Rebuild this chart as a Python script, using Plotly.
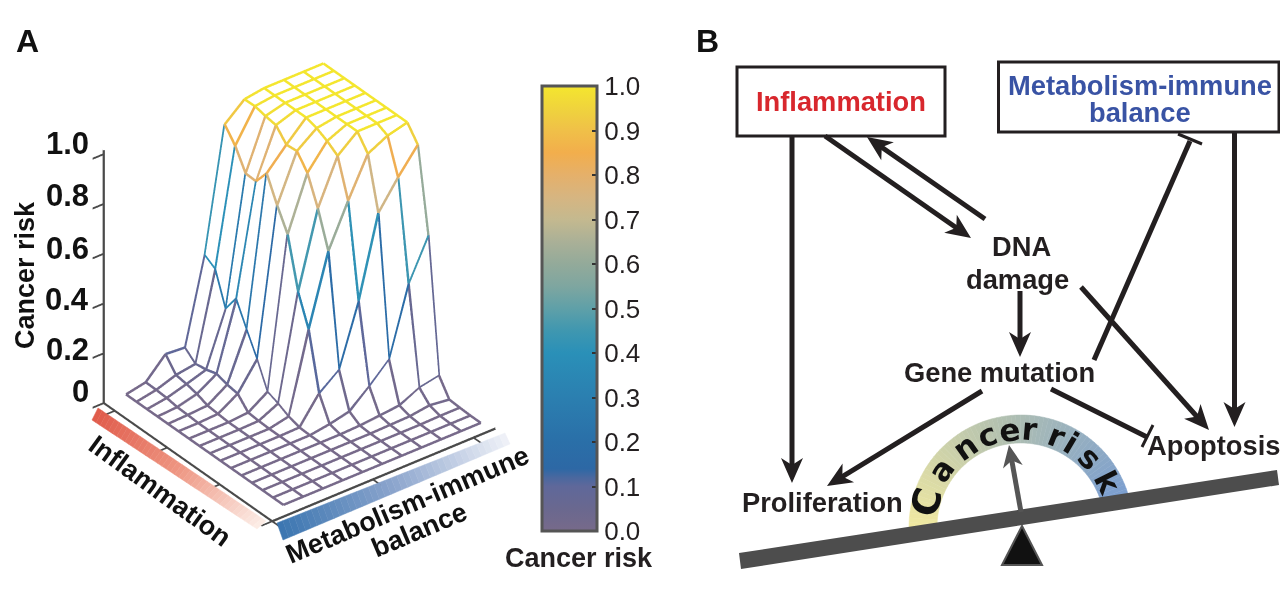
import math
import numpy as np
import plotly.graph_objects as go

W, H = 1280, 593

# ---------- Panel A data ----------
balance_levels = list(range(11))          # metabolism-immune balance grid
inflammation_levels = list(range(15, -1, -1))  # inflammation grid, from the far edge forward
cancer_risk = [
    [0, .016, .096, .09, .43, .92, .988, 1, 1, 1, 1],
    [0, .015, .042, .054, .403, .864, .99, 1, 1, 1, 1],
    [0, .012, .035, .06, .272, .782, .98, 1, 1, 1, 1],
    [0, .005, .025, .073, .342, .78, .973, 1, 1, 1, 1],
    [0, .003, .008, .059, .25, .842, .924, 1, 1, 1, 1],
    [0, 0, .004, .052, .16, .743, .928, .987, 1, 1, 1],
    [0, 0, 0, .006, .058, .656, .87, .965, 1, 1, 1],
    [0, 0, 0, .002, .04, .456, .757, .935, 1, 1, 1],
    [0, 0, 0, 0, .017, .334, .615, .784, .94, .98, 1],
    [0, 0, 0, 0, .002, .107, .17, .412, .732, .842, .94],
    [0, 0, 0, 0, 0, .012, .03, .1, .176, .446, .606],
    [0, 0, 0, 0, 0, 0, .003, .01, .018, .058, .074],
    [0, 0, 0, 0, 0, 0, 0, .002, .004, .015, .005],
    [0, 0, 0, 0, 0, 0, 0, 0, 0, .002, .002],
    [0, 0, 0, 0, 0, 0, 0, 0, 0, 0, 0],
    [0, 0, 0, 0, 0, 0, 0, 0, 0, 0, 0],
]
risk_ticks = [0, .2, .4, .6, .8, 1.0]
risk_labels = ["0", "0.2", "0.4", "0.6", "0.8", "1.0"]
bar_ticks = [round(k * .1, 1) for k in range(11)]
bar_labels = [f"{v:.1f}" for v in bar_ticks]
risk_colors = [
    [0, "#776a8a"], [.05, "#6a688f"], [.1, "#5f689a"], [.12, "#4a689f"], [.14, "#2d68a5"],
    [.2, "#2a6fa8"], [.3, "#2b7fb0"], [.4, "#2a90b8"], [.45, "#3f97b0"], [.5, "#5fa0a8"],
    [.55, "#7ea6a0"], [.6, "#93aa9a"], [.65, "#aab097"], [.7, "#c4b98f"], [.75, "#d6b581"],
    [.8, "#e5b06a"], [.85, "#f2ae4c"], [.9, "#f0c048"], [.94, "#efd03f"], [1, "#f4e62e"],
]

Z = np.array(cancer_risk)
lx, ly, lz, lc = [], [], [], []
for i, a in enumerate(inflammation_levels):
    for j, b in enumerate(balance_levels):
        if j + 1 < len(balance_levels):
            lx += [b, balance_levels[j + 1], None]
            ly += [a, a, None]
            lz += [Z[i, j], Z[i, j + 1], None]
            lc += [Z[i, j], Z[i, j], Z[i, j]]
        if i + 1 < len(inflammation_levels):
            lx += [b, b, None]
            ly += [a, inflammation_levels[i + 1], None]
            lz += [Z[i, j], Z[i + 1, j], None]
            lc += [Z[i + 1, j], Z[i + 1, j], Z[i + 1, j]]

fig = go.Figure()
fig.add_trace(go.Surface(
    x=balance_levels, y=inflammation_levels, z=Z - 0.007,
    colorscale=[[0, "white"], [1, "white"]], showscale=False, hoverinfo="skip",
    lighting=dict(ambient=1, diffuse=0, specular=0, roughness=1, fresnel=0),
    contours=dict(x=dict(highlight=False), y=dict(highlight=False), z=dict(highlight=False)),
))
fig.add_trace(go.Scatter3d(
    x=lx, y=ly, z=lz, mode="lines", hoverinfo="skip",
    line=dict(color=lc, colorscale=risk_colors, cmin=0, cmax=1, width=5, showscale=True,
              colorbar=dict(
                  thicknessmode="pixels", thickness=55, lenmode="pixels", len=445,
                  x=541.5 / W, xanchor="left", y=1 - 86 / H, yanchor="top", xpad=0, ypad=0,
                  outlinecolor="#555555", outlinewidth=3, borderwidth=0,
                  tickmode="array", tickvals=bar_ticks, ticktext=bar_labels,
                  ticks="inside", ticklen=6, tickwidth=2, tickcolor="#333333",
                  tickfont=dict(family="Liberation Sans", size=26, color="#231f20"),
              )),
))

axis_common = dict(showbackground=False, showgrid=False, zeroline=False, showspikes=False,
                   showline=True, linecolor="#4a4a4a", linewidth=5, title=dict(text=""),
                   ticks="outside", ticklen=14, tickwidth=4, tickcolor="#4a4a4a", showticklabels=False)
cam_dir = np.array([-.5133, -.6672, .5401])
fig.update_layout(
    width=W, height=H, margin=dict(l=0, r=0, t=0, b=0), paper_bgcolor="white",
    showlegend=False,
    scene=dict(
        domain=dict(x=[0, 599 / W], y=[1 - 579 / H, 1]),
        bgcolor="rgba(0,0,0,0)",
        aspectmode="manual", aspectratio=dict(x=.972, y=.954, z=1.037),
        camera=dict(eye=dict(zip("xyz", (cam_dir * 1.918).tolist())),
                    up=dict(x=0, y=0, z=1), center=dict(x=0, y=0, z=0),
                    projection=dict(type="orthographic")),
        xaxis=dict(axis_common, range=[-1.1, 10.2], tickvals=[-1.1, 4.0, 9.1]),
        yaxis=dict(axis_common, range=[-1.0, 15.05], tickvals=[-1.0, 4.0, 9.0, 14.0]),
        zaxis=dict(axis_common, range=[0, 1.015], tickvals=risk_ticks),
    ),
)

# ---------- page-pixel helpers ----------
shapes, notes = [], []
def poly(pts, fill, lw=0, lc_=None, layer="above"):
    d = "M" + " L".join(f"{x / W:.5f},{1 - y / H:.5f}" for x, y in pts) + " Z"
    shapes.append(dict(type="path", path=d, xref="paper", yref="paper", fillcolor=fill, layer=layer,
                       line=dict(width=lw, color=lc_ or fill)))
def seg(x0, y0, x1, y1, color="#231f20", lw=5):
    shapes.append(dict(type="line", xref="paper", yref="paper", x0=x0 / W, y0=1 - y0 / H, x1=x1 / W, y1=1 - y1 / H,
                       line=dict(color=color, width=lw)))
def rect(x0, y0, x1, y1):
    shapes.append(dict(type="rect", xref="paper", yref="paper", x0=x0 / W, y0=1 - y0 / H, x1=x1 / W, y1=1 - y1 / H,
                       line=dict(color="#231f20", width=3), fillcolor="rgba(0,0,0,0)"))
def label(text, x, y, size=27, color="#231f20", bold=True, angle=0, family="Liberation Sans", anchor="center"):
    t = f"<b>{text}</b>" if bold else text
    notes.append(dict(text=t, x=x / W, y=1 - y / H, xref="paper", yref="paper", showarrow=False,
                      textangle=angle, font=dict(family=family, size=size, color=color),
                      xanchor=anchor, yanchor="middle"))
def arrow(x0, y0, x1, y1, color="#231f20", lw=5, hl=25, hw=11):
    L = math.hypot(x1 - x0, y1 - y0); ux, uy = (x1 - x0) / L, (y1 - y0) / L; nx, ny = -uy, ux
    seg(x0, y0, x1 - ux * hl * .7, y1 - uy * hl * .7, color, lw)
    poly([(x1, y1), (x1 - ux * hl + nx * hw, y1 - uy * hl + ny * hw),
          (x1 - ux * hl * .72, y1 - uy * hl * .72),
          (x1 - ux * hl - nx * hw, y1 - uy * hl - ny * hw)], color)
def mix(c0, c1, t):
    return "#" + "".join(f"{round(a + (b - a) * t):02x}" for a, b in zip(c0, c1))
def ramp(stops, t):
    n = len(stops) - 1
    k = min(int(t * n), n - 1)
    return mix(stops[k], stops[k + 1], t * n - k)
def strip(p00, p01, p10, p11, stops, n=40):
    for k in range(n):
        t0, t1 = k / n, (k + 1) / n
        A = [(p00[m] + (p10[m] - p00[m]) * t0, p01[m] + (p11[m] - p01[m]) * t0) for m in (0, 1)]
        B = [(p00[m] + (p10[m] - p00[m]) * t1, p01[m] + (p11[m] - p01[m]) * t1) for m in (0, 1)]
        poly([(A[0][0], A[1][0]), (B[0][0], B[1][0]), (B[0][1], B[1][1]), (A[0][1], A[1][1])],
             ramp(stops, (t0 + t1) / 2), lw=.5)

# Panel A gradient bars and labels
RED = [(224, 90, 74), (238, 150, 130), (252, 238, 232)]
BLUE = [(58, 117, 176), (140, 165, 205), (240, 242, 248)]
strip((98, 408), (92, 420), (266, 521), (257, 529), RED)
strip((277, 523), (283, 540), (505, 433), (510, 444), BLUE)
label("A", 27, 41, 32, "#111111")
label("B", 707, 41, 32, "#111111")
label("Cancer risk", 25, 275, 27, "#111111", angle=-90)
label("Cancer risk", 579, 558, 27, "#231f20")
label("Inflammation", 160, 491, 27, "#111111", angle=36)
label("Metabolism-immune", 407, 505, 27, "#111111", angle=-23)
label("balance", 419, 530, 27, "#111111", angle=-23)
for t, s, lift in zip(risk_ticks, risk_labels, [8, 1, 1, 2, 4, 7]):
    label(s, 91, 400 - 250 * t - lift, 31, "#111111", anchor="right")

# Panel B boxes and labels
rect(737, 67, 945, 136)
rect(998.5, 62, 1279, 132)
label("Inflammation", 841, 102, 27.3, "#d8272d")
label("Metabolism-immune", 1140, 85, 27.3, "#3953a4")
label("balance", 1140, 112, 27.3, "#3953a4")
label("DNA", 1021, 246, 27.3)
label("damage", 1017, 279, 27.3)
label("Gene mutation", 999, 372, 27.3)
label("Apoptosis", 1213, 445, 27.3)
label("Proliferation", 822, 502, 27.3)

# Panel B arrows
arrow(792, 136, 792, 483)
arrow(825, 136, 971, 238)
arrow(985, 219, 867, 137)
arrow(1020, 291, 1020, 357)
seg(1094, 360, 1190, 141)
seg(1178, 134, 1202, 144, lw=3)
arrow(1081, 287, 1209, 430)
arrow(1234.5, 132, 1234.5, 427)
arrow(982, 391, 827, 486)
seg(1051, 389, 1147, 437)
seg(1153, 425, 1142, 447, lw=3)

# Balance gauge
cx, cy, Ro, Ri = 1021, 527, 112, 84
ARC = [(244, 235, 160), (178, 192, 176), (122, 158, 208)]
n = 70
for k in range(n):
    a0 = math.radians(-95 + (75 + 95) * k / n)
    a1 = math.radians(-95 + (75 + 95) * (k + 1) / n)
    poly([(cx + Ro * math.sin(a0), cy - Ro * math.cos(a0)), (cx + Ro * math.sin(a1), cy - Ro * math.cos(a1)),
          (cx + Ri * math.sin(a1), cy - Ri * math.cos(a1)), (cx + Ri * math.sin(a0), cy - Ri * math.cos(a0))],
         ramp(ARC, (k + .5) / n), lw=.5)
for ch, ang, sz in zip("Cancerrisk", [-75, -54.7, -35, -20, -7, 5, 21.5, 31, 45, 63], [38, 31, 31, 31, 31, 31, 31, 31, 31, 31]):
    r = math.radians(ang)
    label(ch, cx + 98 * math.sin(r), cy - 98 * math.cos(r), sz, "#111111", angle=ang, family="DejaVu Sans")
poly([(739, 553), (1277, 470), (1279, 485), (741, 569)], "#4d4d4d")
poly([(1022, 526), (1002, 565), (1042, 565)], "#111111", lw=2, lc_="#555555")
arrow(1021, 512, 1009, 445, "#555555", 5, 22, 10)

fig.update_layout(shapes=shapes, annotations=notes)
fig.write_html("out.html", config={"displayModeBar": False}, post_script="document.body.style.margin='0';")
